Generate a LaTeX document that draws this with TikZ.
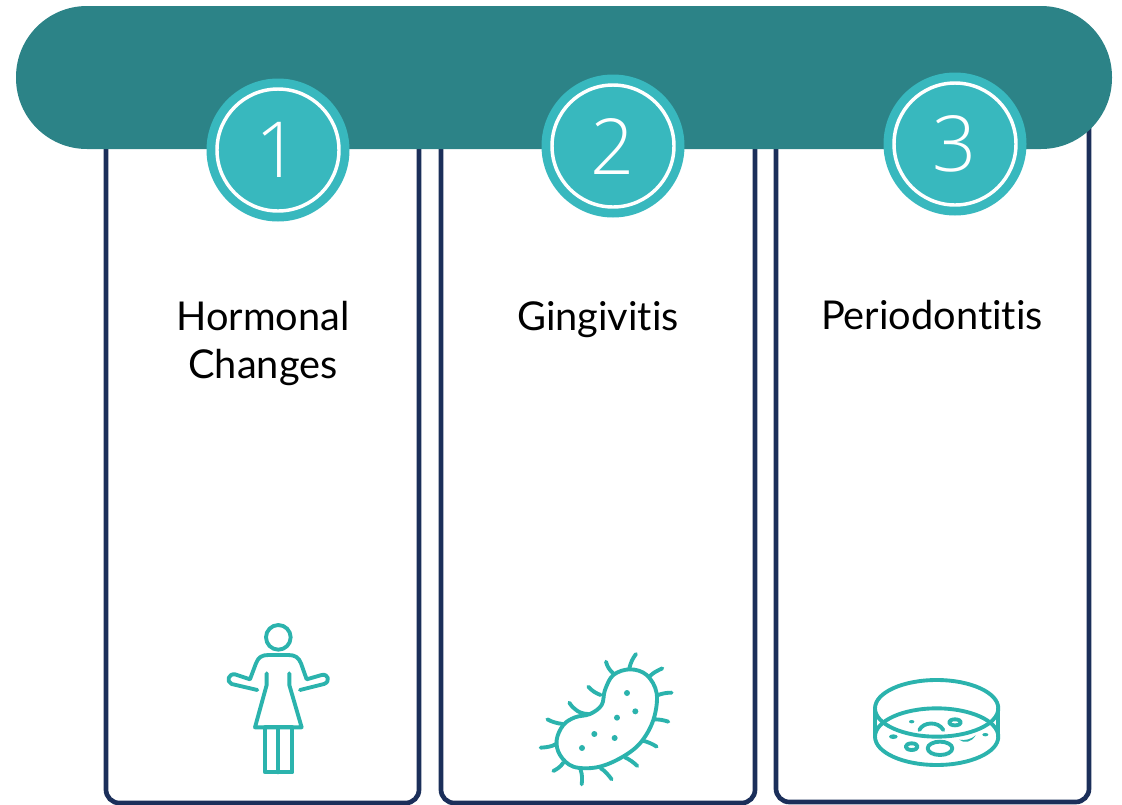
\documentclass[tikz,border=0pt]{standalone}
\usepackage{fontspec,xcolor,tikz}
\setmainfont[Ligatures=NoCommon]{Lato}
\newfontfamily\ziffer{Open Sans Light}
\definecolor{balken}{HTML}{2C8387}
\definecolor{kreis}{HTML}{38B8BE}
\definecolor{symbol}{HTML}{2BB3AD}
\definecolor{rahmen}{HTML}{1B2F5A}
\newcommand{\stufelab}{\fontsize{29.8}{36}\selectfont}
\newcommand{\zifferlab}{\ziffer\fontsize{58}{60}\selectfont}
\tikzset{
  karte/.style={draw=rahmen,line width=3.5,rounded corners=10,fill=white},
  stufe/.style={circle,fill=kreis,inner sep=0,minimum size=107.25pt,text=white},
  ring/.style={draw=white,line width=2.6,fill=none},
  titel/.style={align=center,text=black,inner sep=0,font=\stufelab},
  ikon/.style={draw=symbol,line width=2.9,line cap=round,line join=round},
}
\newcommand{\stufenkreis}[4]{%
  \node[stufe] (#1) at (#2,#3) {\zifferlab #4};
  \draw[ring] (#1.center) circle (61);
}
\begin{document}
\begin{tikzpicture}[x=0.75pt,y=-0.75pt]
\useasboundingbox (0,0) rectangle (1122,804);
\draw[karte] (106,100) rectangle (419,803);
\draw[karte] (441,100) rectangle (755,803);
\draw[karte] (776,100) rectangle (1089,802);
\fill[balken] (16,6) [rounded corners=53.25pt] rectangle (1112,149);
\stufenkreis{eins}{278}{150}{1}
\stufenkreis{zwei}{613}{146}{2}
\stufenkreis{drei}{955}{144}{3}
\node[titel] (hormon) at (263,343) {Hormonal\\Changes};
\node[titel,anchor=base] (gingi) at (598,330) {Gingivitis};
\node[titel,anchor=base] (perio) at (932,329) {Periodontitis};
\begin{scope}[shift={(200,610)},scale=0.3333]
\draw[ikon] (235,82) circle (37);
\draw[ikon] (172,240) -- (95,222) .. controls (78,215) and (85,190) .. (105,193) -- (150,208) -- (168,160) .. controls (175,142) and (185,135) .. (205,135) -- (265,135) .. controls (285,135) and (296,142) .. (303,160) -- (320,208) -- (365,195) .. controls (385,190) and (392,215) .. (372,222) -- (300,240);
\draw[ikon] (200,190) -- (200,225) -- (165,352) -- (305,352) -- (268,225) -- (268,190);
\draw[ikon] (195,352) rectangle (277,487);
\draw[ikon] (235,352) -- (235,487);
\end{scope}
\begin{scope}[shift={(530,640)},scale=0.3333]
\draw[ikon] plot[smooth cycle,tension=0.6] coordinates {(250,105) (300,88) (350,105) (380,160) (370,240) (330,310) (270,355) (200,382) (130,380) (90,345) (80,300) (100,255) (135,232) (180,222) (215,195) (225,150)};
\draw[ikon] (250,100) .. controls (238,90) and (232,80) .. (228,65);
\draw[ikon] (298,85) .. controls (302,68) and (308,55) .. (318,42);
\draw[ikon] (360,108) .. controls (370,98) and (382,92) .. (397,85);
\draw[ikon] (385,165) .. controls (398,160) and (410,158) .. (425,158);
\draw[ikon] (372,238) .. controls (387,238) and (400,240) .. (415,245);
\draw[ikon] (338,302) .. controls (352,305) and (368,312) .. (380,320);
\draw[ikon] (285,352) .. controls (298,358) and (312,368) .. (322,378);
\draw[ikon] (212,385) .. controls (225,392) and (235,405) .. (245,418);
\draw[ikon] (152,390) .. controls (157,405) and (157,418) .. (155,433);
\draw[ikon] (100,368) .. controls (92,380) and (82,387) .. (70,393);
\draw[ikon] (78,312) .. controls (65,320) and (50,322) .. (32,323);
\draw[ikon] (98,252) .. controls (82,250) and (66,246) .. (52,238);
\draw[ikon] (175,222) .. controls (150,222) and (130,208) .. (118,188);
\draw[ikon] (212,165) .. controls (198,160) and (185,152) .. (175,140);
\foreach \px/\py in {291/159,316/214,261/233,254/294,193/282,156/324}
  \fill[symbol] (\px,\py) circle (9);
\end{scope}
\begin{scope}[shift={(860,665)},scale=0.3333]
\draw[ikon] (230,130) ellipse (185 and 85);
\draw[ikon] (230,215) ellipse (185 and 85);
\draw[ikon] (45,130) -- (45,215);
\draw[ikon] (415,130) -- (415,215);
\draw[ikon] (178,195) .. controls (190,170) and (235,168) .. (250,195);
\draw[ikon] (285,172) ellipse (18 and 9);
\fill[symbol] (155,170) ellipse (8 and 5);
\fill[symbol] (100,215) ellipse (13 and 7);
\draw[ikon] (155,245) ellipse (18 and 10);
\draw[ikon] (240,250) ellipse (37 and 20);
\fill[symbol] (376,209) ellipse (9 and 5);
\fill[symbol] (298,224) .. controls (315,228) and (335,222) .. (347,211) .. controls (335,232) and (312,236) .. (298,224) -- cycle;
\end{scope}
\end{tikzpicture}
\end{document}
